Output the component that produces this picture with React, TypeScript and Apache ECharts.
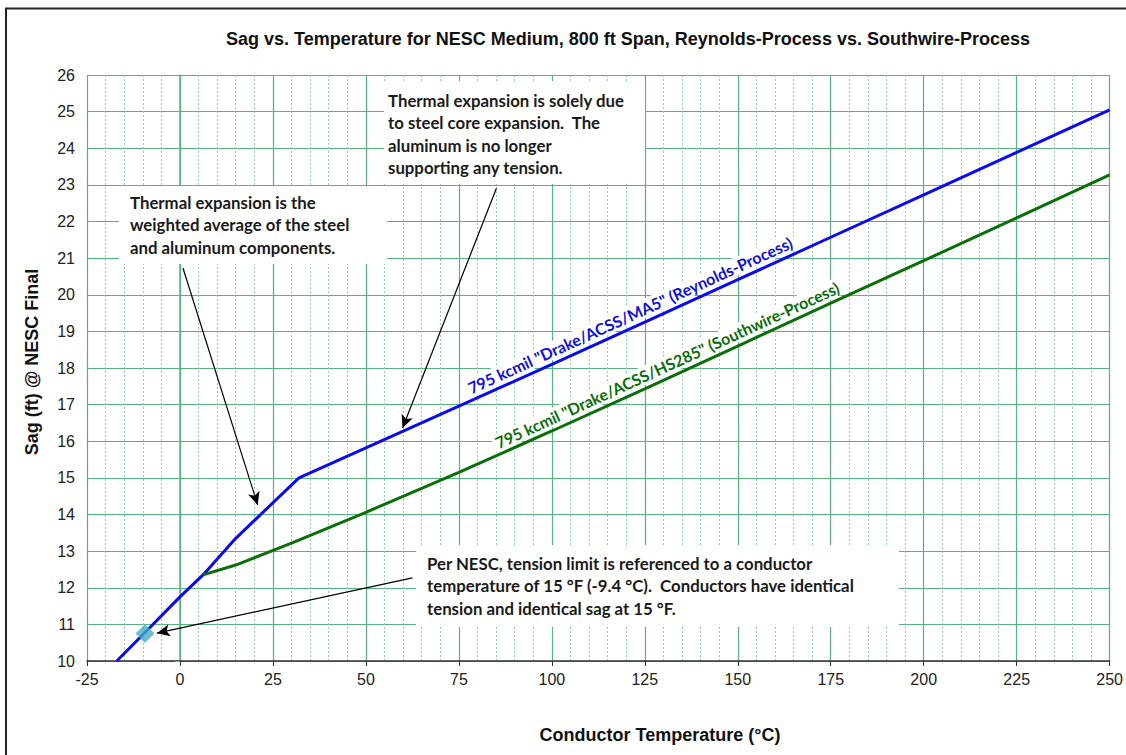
import React, { useEffect, useRef } from "react";
import * as echarts from "echarts";

const titleText = "Sag vs. Temperature for NESC Medium, 800 ft Span, Reynolds-Process vs. Southwire-Process";
const xAxisTitle = "Conductor Temperature (°C)";
const yAxisTitle = "Sag (ft) @ NESC Final";

const reynoldsTemps = [-17, -9.4, 0, 6.2, 15, 32, 50, 75, 100, 125, 150, 175, 200, 225, 250];
const reynoldsSag = [10, 10.78, 11.75, 12.35, 13.35, 15.0, 15.82, 16.96, 18.1, 19.25, 20.41, 21.57, 22.73, 23.89, 25.05];

const southwireTemps = [6.2, 15, 30, 50, 75, 100, 125, 150, 175, 200, 225, 250];
const southwireSag = [12.35, 12.62, 13.22, 14.06, 15.15, 16.28, 17.43, 18.6, 19.77, 20.93, 22.1, 23.27];

const refPointTemp = [-9.4];
const refPointSag = [10.75];

const reynoldsLabel = '795 kcmil "Drake/ACSS/MA5" (Reynolds-Process)';
const southwireLabel = '795 kcmil "Drake/ACSS/HS285" (Southwire-Process)';

const note1 = "Thermal expansion is the\nweighted average of the steel\nand aluminum components.";
const note2 = "Thermal expansion is solely due\nto steel core expansion.  The\naluminum is no longer\nsupporting any tension.";
const note3 = "Per NESC, tension limit is referenced to a conductor\ntemperature of 15 °F (-9.4 °C).  Conductors have identical\ntension and identical sag at 15 °F.";

// arrows: [fromTemp, fromSag, toTemp, toSag]
const arrows = [
  [0.8, 20.73, 20.9, 14.26],
  [85.1, 22.91, 59.85, 16.36],
  [62.5, 12.27, -6.2, 10.76],
];

const GRID_GREEN = "#55b37f";
const FONT = 'Arial, "Liberation Sans", sans-serif';
const NOTE_FONT = 'Lato, "Open Sans", sans-serif';

export default function App() {
  const ref = useRef<HTMLDivElement>(null);
  useEffect(() => {
    document.body.style.margin = "0";
    const chart = echarts.init(ref.current!, null, { renderer: "svg" });
    const noteStyle = (text: string) => ({
      text,
      font: `bold 16.8px ${NOTE_FONT}`,
      fill: "#1a1a1a",
      lineHeight: 22.5,
    });
    chart.setOption({
      animation: false,
      backgroundColor: "#ffffff",
      title: {
        text: titleText,
        left: 623,
        top: 25,
        textAlign: "center",
        textStyle: { fontFamily: FONT, fontSize: 18, fontWeight: "bold", color: "#111" },
      },
      grid: { left: 87, right: 15, top: 75, bottom: 94 },
      xAxis: {
        type: "value",
        min: -25,
        max: 250,
        interval: 25,
        axisLine: { show: true, onZero: false, lineStyle: { color: "#333", width: 1.5 } },
        axisTick: { show: true, length: 5, lineStyle: { color: "#333" } },
        axisLabel: { fontFamily: FONT, fontSize: 16, color: "#222", margin: 10 },
        splitLine: { show: true, lineStyle: { color: GRID_GREEN, width: 1.2 } },
        minorTick: { show: false, splitNumber: 5 },
        minorSplitLine: { show: true, lineStyle: { color: "#8ccfa8", width: 1, type: [2, 2] } },
      },
      yAxis: {
        type: "value",
        min: 10,
        max: 26,
        interval: 1,
        axisLine: { show: true, lineStyle: { color: GRID_GREEN, width: 1.5 } },
        axisTick: { show: true, length: 5, lineStyle: { color: GRID_GREEN } },
        axisLabel: { fontFamily: FONT, fontSize: 16, color: "#222", margin: 12 },
        splitLine: { show: true, lineStyle: { color: GRID_GREEN, width: 1.2 } },
      },
      series: [
        {
          type: "line",
          name: "Reynolds",
          data: reynoldsTemps.map((t, i) => [t, reynoldsSag[i]]),
          showSymbol: false,
          lineStyle: { color: "#0a0af0", width: 3 },
          z: 3,
        },
        {
          type: "line",
          name: "Southwire",
          data: southwireTemps.map((t, i) => [t, southwireSag[i]]),
          showSymbol: false,
          lineStyle: { color: "#0a6e0a", width: 3 },
          z: 3,
        },
        {
          type: "scatter",
          name: "Reference",
          data: refPointTemp.map((t, i) => [t, refPointSag[i]]),
          symbol: "diamond",
          symbolSize: [19, 19],
          itemStyle: { color: "#4aabc6" },
          z: 4,
          markLine: {
            silent: true,
            symbol: ["none", "arrow"],
            symbolSize: [9, 13],
            label: { show: false },
            lineStyle: { color: "#000", width: 1.2, type: "solid" },
            data: arrows.map((a) => [
              { coord: [a[0], a[1]] },
              { coord: [a[2], a[3]] },
            ]),
          },
        },
      ],
      graphic: [
        { type: "line", z: 1, shape: { x1: 5, y1: 8.5, x2: 1126, y2: 8.5 }, style: { stroke: "#222", lineWidth: 2 } },
        { type: "line", z: 1, shape: { x1: 6, y1: 8, x2: 6, y2: 755 }, style: { stroke: "#222", lineWidth: 2 } },
        { type: "rect", z: 1, shape: { x: 119, y: 186, width: 268, height: 78 }, style: { fill: "#fff" } },
        { type: "rect", z: 1, shape: { x: 384, y: 81, width: 261, height: 103 }, style: { fill: "#fff" } },
        { type: "rect", z: 1, shape: { x: 416, y: 545, width: 483, height: 82 }, style: { fill: "#fff" } },
        { type: "text", z: 10, x: 130, y: 191, style: noteStyle(note1) },
        { type: "text", z: 10, x: 388, y: 89, style: noteStyle(note2) },
        { type: "text", z: 10, x: 427, y: 552, style: noteStyle(note3) },
        {
          type: "text", z: 10, x: 630, y: 315, rotation: 0.428,
          style: {
            text: reynoldsLabel, font: `bold 16px ${NOTE_FONT}`, fill: "#1010e0",
            align: "center", verticalAlign: "middle", backgroundColor: "#fff", padding: [1, 3],
          },
        },
        {
          type: "text", z: 10, x: 667, y: 365, rotation: 0.43,
          style: {
            text: southwireLabel, font: `bold 16px ${NOTE_FONT}`, fill: "#0a6e0a",
            align: "center", verticalAlign: "middle", backgroundColor: "#fff", padding: [1, 3],
          },
        },
        {
          type: "text", z: 10, x: 660, y: 735,
          style: { text: xAxisTitle, font: `bold 18px ${FONT}`, fill: "#111", align: "center", verticalAlign: "middle" },
        },
        {
          type: "text", z: 10, x: 32, y: 362, rotation: Math.PI / 2,
          style: { text: yAxisTitle, font: `bold 18px ${FONT}`, fill: "#111", align: "center", verticalAlign: "middle" },
        },
      ],
    });
    return () => chart.dispose();
  }, []);
  return <div ref={ref} style={{ width: 1126, height: 755 }} />;
}
